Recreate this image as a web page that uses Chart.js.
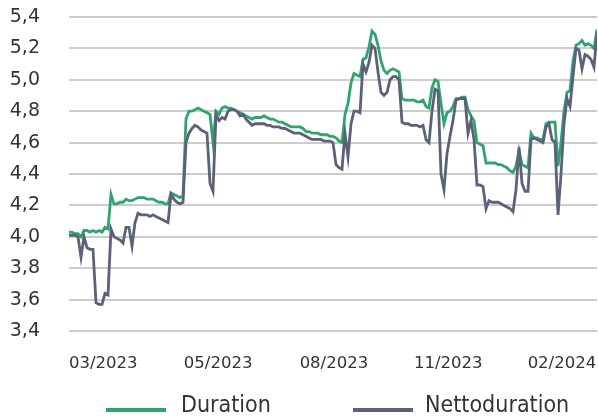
<!DOCTYPE html>
<html>
<head>
<meta charset="utf-8">
<script src="https://cdn.jsdelivr.net/npm/chart.js@4.4.1/dist/chart.umd.min.js"></script>
<style>
  html, body { margin: 0; padding: 0; background: #fff; }
  #wrap { width: 598px; height: 418px; position: relative; }
</style>
</head>
<body>
<div id="wrap"><canvas id="chart"></canvas></div>
<script>
// Series, sampled left to right across the period (one value per step)
const duration = [
    4.03, 4.03, 4.02, 4.02, 4.00, 4.04, 4.04, 4.03, 4.04, 4.03, 4.04, 4.03, 4.06, 4.05,
    4.27, 4.21, 4.21, 4.22, 4.22, 4.24, 4.23, 4.23, 4.24, 4.25, 4.25, 4.25, 4.24, 4.24, 4.24, 4.23, 4.22, 4.22, 4.21, 4.21, 4.28, 4.27, 4.26, 4.25, 4.26,
    4.75, 4.80, 4.80, 4.81, 4.82, 4.81, 4.80, 4.79, 4.78, 4.60,
    4.80, 4.78, 4.82, 4.83, 4.82, 4.82, 4.81, 4.80, 4.79, 4.78, 4.77, 4.76,
    4.75, 4.76, 4.76, 4.76, 4.77, 4.76, 4.75, 4.75, 4.74, 4.73, 4.73, 4.72, 4.71, 4.70, 4.70, 4.70, 4.70, 4.69, 4.67, 4.67, 4.66, 4.66, 4.66, 4.65, 4.65, 4.65, 4.64, 4.64,
    4.63, 4.61, 4.60, 4.78, 4.85, 4.98, 5.04, 5.03, 5.02, 5.13, 5.14, 5.21, 5.31, 5.29, 5.22, 5.12, 5.06, 5.04, 5.06, 5.07, 5.06, 5.05,
    4.88, 4.87, 4.87, 4.87, 4.87, 4.86, 4.86, 4.87, 4.83, 4.82, 4.95, 5.00, 4.99,
    4.85, 4.72, 4.79, 4.80, 4.83, 4.88, 4.88, 4.89, 4.89, 4.81, 4.77, 4.74,
    4.60, 4.59, 4.58, 4.47, 4.47, 4.47, 4.47, 4.46, 4.46, 4.45, 4.44, 4.42, 4.41, 4.45, 4.55, 4.46, 4.45, 4.44,
    4.66, 4.63, 4.63, 4.62, 4.62, 4.72, 4.73, 4.73, 4.73, 4.45, 4.60, 4.80, 4.92, 4.93, 5.12, 5.22, 5.23, 5.25, 5.22, 5.23, 5.22, 5.20, 5.32
];
const nettoduration = [
    4.01, 4.01, 4.01, 4.00, 3.87, 4.00, 3.93, 3.92, 3.92, 3.58, 3.57, 3.57, 3.64, 3.63,
    4.05, 4.00, 3.99, 3.98, 3.96, 4.06, 4.06, 3.94, 4.09, 4.15, 4.14, 4.14, 4.14, 4.13, 4.14, 4.13, 4.12, 4.11, 4.10, 4.09, 4.27, 4.24, 4.22, 4.21, 4.22,
    4.60, 4.66, 4.69, 4.71, 4.70, 4.68, 4.67, 4.66, 4.34, 4.29,
    4.78, 4.74, 4.76, 4.75, 4.80, 4.81, 4.81, 4.80, 4.77, 4.78, 4.75, 4.73,
    4.71, 4.72, 4.72, 4.72, 4.72, 4.71, 4.71, 4.70, 4.70, 4.70, 4.69, 4.69, 4.68, 4.67, 4.66, 4.66, 4.66, 4.65, 4.64, 4.63, 4.62, 4.62, 4.62, 4.62, 4.61, 4.61, 4.61, 4.60,
    4.46, 4.44, 4.43, 4.66, 4.51, 4.72, 4.80, 4.80, 4.79, 5.10, 5.05, 5.11, 5.22, 5.20, 5.05, 4.92, 4.90, 4.92, 5.00, 5.02, 5.02, 5.00,
    4.73, 4.72, 4.72, 4.71, 4.71, 4.71, 4.70, 4.71, 4.62, 4.60, 4.80, 4.94, 4.93,
    4.40, 4.30, 4.53, 4.64, 4.74, 4.87, 4.88, 4.88, 4.88, 4.66, 4.74, 4.62,
    4.33, 4.33, 4.32, 4.18, 4.23, 4.22, 4.22, 4.22, 4.21, 4.20, 4.19, 4.18, 4.16, 4.30, 4.57, 4.34, 4.29, 4.29,
    4.62, 4.63, 4.62, 4.61, 4.60, 4.70, 4.72, 4.62, 4.60, 4.14, 4.40, 4.72, 4.88, 4.83, 5.02, 5.20, 5.19, 5.07, 5.16, 5.15, 5.13, 5.08, 5.30
];

// x tick labels and where they fall (in sample steps)
const tickLabels = ['03/2023', '05/2023', '08/2023', '11/2023', '02/2024'];
const tickSteps = [11.4, 49.7, 88.3, 126.4, 164.3];

const seriesNames = ['Duration', 'Nettoduration'];
const seriesColors = ['#2ea56f', '#5b6179'];

const toPoints = arr => arr.map((v, i) => ({ x: i, y: v }));

// legend row under the axis (narrow lettering, like the original)
const legendRow = {
    id: 'legendRow',
    afterDraw(chart) {
        const ctx = chart.ctx;
        const items = [
            { lineX: 106, textX: 181 },
            { lineX: 353, textX: 425 }
        ];
        const base = 412;
        ctx.save();
        items.forEach((it, i) => {
            ctx.fillStyle = seriesColors[i];
            ctx.fillRect(it.lineX, base - 4, 60, 4);
        });
        ctx.font = '23px "DejaVu Sans"';
        ctx.textBaseline = 'alphabetic';
        ctx.fillStyle = '#333333';
        items.forEach((it, i) => {
            ctx.save();
            ctx.translate(it.textX, base);
            ctx.scale(0.9, 1);
            ctx.fillText(seriesNames[i], 0, 0);
            ctx.restore();
        });
        ctx.restore();
    }
};

new Chart(document.getElementById('chart'), {
    type: 'line',
    data: {
        datasets: [{
            label: seriesNames[0],
            data: toPoints(duration),
            borderColor: seriesColors[0],
            borderWidth: 2.8,
            pointRadius: 0,
            tension: 0,
            order: 1
        }, {
            label: seriesNames[1],
            data: toPoints(nettoduration),
            borderColor: seriesColors[1],
            borderWidth: 2.8,
            pointRadius: 0,
            tension: 0,
            order: 0
        }]
    },
    options: {
        responsive: true,
        maintainAspectRatio: false,
        animation: false,
        layout: { padding: { top: 17, right: 1, bottom: 45, left: 0 } },
        plugins: {
            legend: { display: false },
            tooltip: { enabled: false }
        },
        scales: {
            x: {
                type: 'linear',
                min: 0,
                max: duration.length - 1,
                grid: { display: false, drawTicks: false },
                border: { display: false },
                afterBuildTicks: axis => {
                    axis.ticks = tickSteps.map(v => ({ value: v }));
                },
                afterFit: axis => {
                    axis.height = 42;
                    axis.paddingLeft = 0;
                    axis.paddingRight = 0;
                },
                ticks: {
                    autoSkip: false,
                    maxRotation: 0,
                    padding: 23,
                    color: '#333333',
                    font: { family: 'DejaVu Sans', size: 16.5 },
                    callback: (value, index) => tickLabels[index]
                }
            },
            y: {
                min: 3.4,
                max: 5.4,
                afterFit: axis => {
                    axis.width = 69;
                    axis.paddingTop = 0;
                    axis.paddingBottom = 0;
                },
                grid: { color: '#cccccc', lineWidth: 2, drawTicks: false },
                border: { display: false },
                ticks: {
                    stepSize: 0.2,
                    padding: 29,
                    color: '#333333',
                    font: { family: 'DejaVu Sans', size: 19 },
                    callback: value => value.toFixed(1).replace('.', ',')
                }
            }
        }
    },
    plugins: [legendRow]
});
</script>
</body>
</html>
